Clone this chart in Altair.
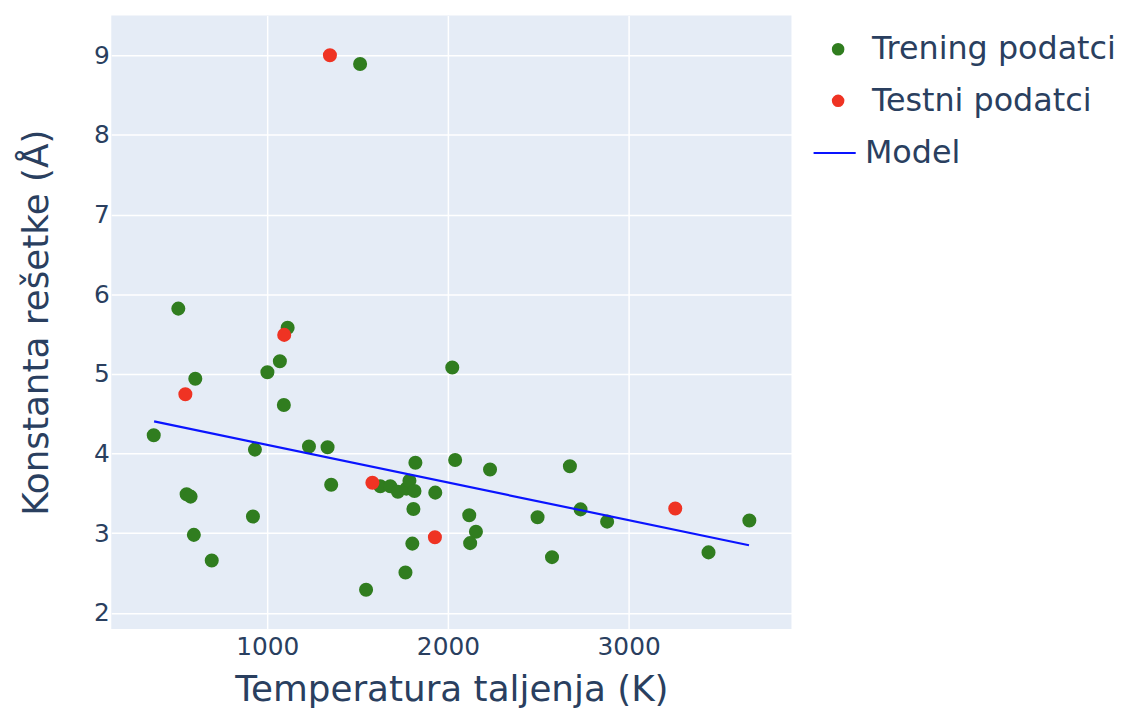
import altair as alt
import pandas as pd

# Training data (melting temperature K, lattice constant Å)
train_T = [1514, 508, 1113, 1070, 1001, 602, 1092, 372, 932, 1231, 1334, 1820, 2040, 2233,
           1354, 1626, 1681, 1723, 1770, 1787, 1815, 1930, 1809, 921, 2118, 2155, 2123,
           554, 576, 594, 693, 1803, 1765, 1547, 2024, 2675, 2496, 2734, 2881, 2576, 3442, 3668]
train_a = [8.89, 5.82, 5.58, 5.16, 5.02, 4.94, 4.61, 4.23, 4.05, 4.09, 4.08, 3.885, 3.92, 3.80,
           3.61, 3.59, 3.59, 3.52, 3.56, 3.66, 3.53, 3.51, 3.305, 3.21, 3.225, 3.02, 2.876,
           3.49, 3.46, 2.98, 2.657, 2.87, 2.507, 2.29, 5.08, 3.84, 3.20, 3.30, 3.146, 2.70, 2.76, 3.16]

# Test data
test_T = [1347, 1094, 547, 1582, 1928, 3258]
test_a = [9.0, 5.49, 4.745, 3.635, 2.95, 3.31]

# Model line endpoints
model_T = [374, 3666]
model_a = [4.405, 2.85]

series_names = ["Trening podatci", "Testni podatci", "Model"]
colors = ["#307d1f", "#ef3323", "#0a14ff"]
FONT = "DejaVu Sans"

pts = pd.DataFrame({
    "T": train_T + test_T,
    "a": train_a + test_a,
    "s": [series_names[0]] * len(train_T) + [series_names[1]] * len(test_T),
})
line_df = pd.DataFrame({"T": model_T, "a": model_a, "s": [series_names[2]] * 2})

xscale = alt.Scale(domain=[137, 3901], nice=False, zero=False)
yscale = alt.Scale(domain=[1.797, 9.50], nice=False, zero=False)

xaxis = alt.Axis(title="Temperatura taljenja (K)", values=[1000, 2000, 3000], format="d",
                 labelPadding=6, titlePadding=13)
yaxis = alt.Axis(title="Konstanta rešetke (Å)", values=[2, 3, 4, 5, 6, 7, 8, 9], format="d",
                 labelPadding=2, titlePadding=38)

points = alt.Chart(pts).mark_circle(size=200, opacity=1).encode(
    x=alt.X("T:Q", scale=xscale, axis=xaxis),
    y=alt.Y("a:Q", scale=yscale, axis=yaxis),
    fill=alt.Fill("s:N", scale=alt.Scale(domain=series_names[:2], range=colors[:2]),
                  legend=alt.Legend(title=None, orient="none", legendX=716, legendY=18,
                                    symbolSize=160, symbolType="circle", rowPadding=20,
                                    labelFontSize=32, labelOffset=18, symbolStrokeWidth=0,
                                    labelLimit=400)),
)

model = alt.Chart(line_df).mark_line(strokeWidth=2.2).encode(
    x="T:Q",
    y="a:Q",
    stroke=alt.Stroke("s:N", scale=alt.Scale(domain=[series_names[2]], range=[colors[2]]),
                      legend=alt.Legend(title=None, orient="none", legendX=706, legendY=116,
                                        symbolType="stroke", symbolSize=1800,
                                        symbolStrokeWidth=2, labelFontSize=32, labelOffset=8,
                                        labelLimit=400)),
)

chart = alt.layer(points, model).properties(
    width=685, height=618,
    padding={"left": 104, "top": 5, "right": 349, "bottom": 81},
    autosize="none",
    background="white",
).configure_view(
    fill="#e5ecf6", stroke=None
).configure_axis(
    grid=True, gridColor="white", gridWidth=1.5, domain=False, ticks=False,
    labelFont=FONT, titleFont=FONT,
    labelFontSize=25, titleFontSize=36, labelColor="#2a3f5f", titleColor="#2a3f5f",
    titleFontWeight="normal",
).configure_legend(
    labelFont=FONT, labelColor="#2a3f5f", labelLimit=400,
)

chart.save("out.html", embed_options={"renderer": "svg", "actions": False})
